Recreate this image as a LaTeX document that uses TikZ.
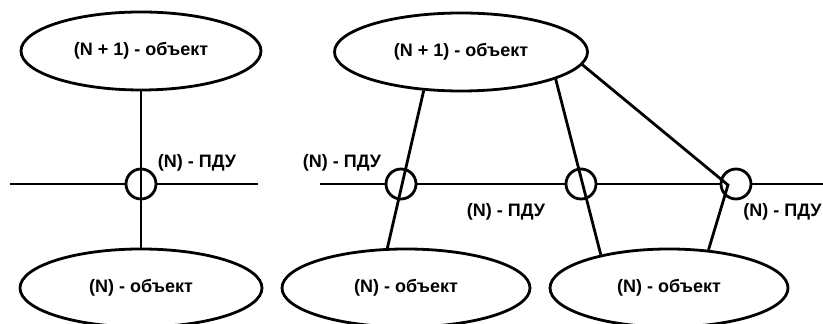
\documentclass[tikz,border=0pt]{standalone}
\usepackage{fontspec}
\setmainfont{Liberation Sans}
\usetikzlibrary{positioning,calc,shapes.geometric}

\begin{document}
\begin{tikzpicture}[x=0.5pt, y=-0.5pt, line width=1.4pt,
		obj/.style={draw, ellipse, minimum height=39pt, inner sep=0pt, font=\bfseries\fontsize{9}{10}\selectfont},
		pdu/.style={draw, circle, fill=white, minimum size=15pt, inner sep=0pt},
		lbl/.style={font=\bfseries\fontsize{9}{10}\selectfont, inner sep=0pt}]
			\useasboundingbox (0,0) rectangle (823,324);
			\coordinate (h1a) at (10,184);
			\coordinate (h1b) at (258,184);
			\coordinate (h2a) at (320,184);
			\coordinate (h2b) at (823,184);
			\draw (h1a) -- (h1b);
			\draw (h2a) -- (h2b);
			\node[obj, minimum width=120pt] (top1) at (141,51) {(N + 1) - объект};
			\node[obj, minimum width=121pt] (bot1) at (141,288) {(N) - объект};
			\node[obj, minimum width=126.5pt] (top2) at (461,52) {(N + 1) - объект};
			\node[obj, minimum width=124pt] (bot2) at (406,288) {(N) - объект};
			\node[obj, minimum width=119pt] (bot3) at (669,288) {(N) - объект};
			\node[pdu] (c1) at (141,184) {};
			\node[pdu] (c2) at (401,184) {};
			\node[pdu] (c3) at (581,184) {};
			\node[pdu] (c4) at (736,184) {};
			\coordinate (m4) at (728,185);
			\draw (top1) -- (bot1);
			\draw (top2.-134) -- (bot2.115);
			\draw (top2.-16) -- (bot3.154);
			\draw (top2.-6) -- (m4) -- (bot3.44);
			\node[lbl] (l1) at (197,163) {(N) - ПДУ};
			\node[lbl] (l2) at (342,163) {(N) - ПДУ};
			\node[lbl] (l3) at (506,212) {(N) - ПДУ};
			\node[lbl, anchor=west] (l4) at (742,212) {(N) - ПДУ};
\end{tikzpicture}
\end{document}
